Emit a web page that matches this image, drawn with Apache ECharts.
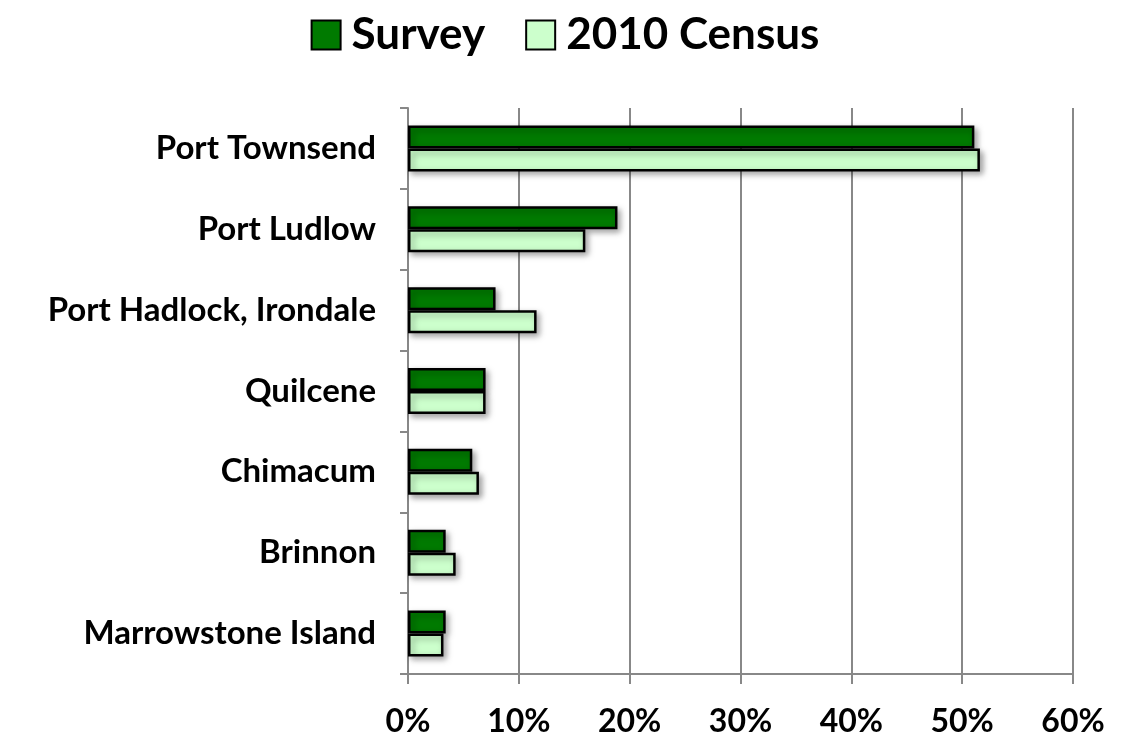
<!DOCTYPE html>
<html>
<head>
<meta charset="utf-8">
<script src="https://cdn.jsdelivr.net/npm/echarts@6/dist/echarts.min.js"></script>
<style>
  html, body {margin:0;padding:0;background:#fff;}
  #chart {width:1130px;height:740px;}
</style>
</head>
<body>
<div id="chart"></div>
<script>
// places, top to bottom
var places = ['Port Townsend', 'Port Ludlow', 'Port Hadlock, Irondale', 'Quilcene', 'Chimacum', 'Brinnon', 'Marrowstone Island'];
// percent of respondents
var survey = [51.1, 18.9, 7.9, 7.0, 5.8, 3.4, 3.4];
var census2010 = [51.6, 16.0, 11.6, 7.0, 6.4, 4.3, 3.2];

var font = 'Lato, "Open Sans", sans-serif';
var shadow = {shadowColor: 'rgba(0,0,0,0.35)', shadowBlur: 6, shadowOffsetX: 3, shadowOffsetY: 3};

var myChart = echarts.init(document.getElementById('chart'));
var option = {
    animation: false,
    legend: {
        top: 8,
        left: 'center',
        icon: 'rect',
        itemWidth: 29,
        itemHeight: 29,
        itemGap: 40,
        textStyle: {fontFamily: font, fontWeight: 'bold', fontSize: 44, color: '#000', padding: [0, 0, 0, 6]},
        data: ['Survey', '2010 Census']
    },
    grid: {left: 408, right: 57, top: 108, bottom: 66},
    xAxis: {
        type: 'value',
        min: 0, max: 60, interval: 10,
        axisLine: {show: true, lineStyle: {color: '#888', width: 2}},
        axisTick: {show: true, length: 10, lineStyle: {color: '#888', width: 2}},
        splitLine: {show: true, lineStyle: {color: '#888', width: 2}},
        axisLabel: {
            margin: 32,
            formatter: '{value}%',
            fontFamily: font, fontWeight: 'bold', fontSize: 32, color: '#000'
        }
    },
    yAxis: {
        type: 'category',
        inverse: true,
        data: places,
        axisLine: {show: true, lineStyle: {color: '#888', width: 2}},
        axisTick: {show: true, length: 8, lineStyle: {color: '#888', width: 2}},
        axisLabel: {
            margin: 32,
            fontFamily: font, fontWeight: 'bold', fontSize: 33, color: '#000'
        }
    },
    series: [
        {
            name: 'Survey',
            type: 'bar',
            data: survey,
            barWidth: 23,
            barGap: '0%',
            itemStyle: Object.assign({color: '#007A00', borderColor: '#000', borderWidth: 2.5}, shadow)
        },
        {
            name: '2010 Census',
            type: 'bar',
            data: census2010,
            barWidth: 23,
            barGap: '0%',
            itemStyle: Object.assign({color: '#CCFFCC', borderColor: '#000', borderWidth: 2.5}, shadow)
        }
    ]
};
myChart.setOption(option);
</script>
</body>
</html>
